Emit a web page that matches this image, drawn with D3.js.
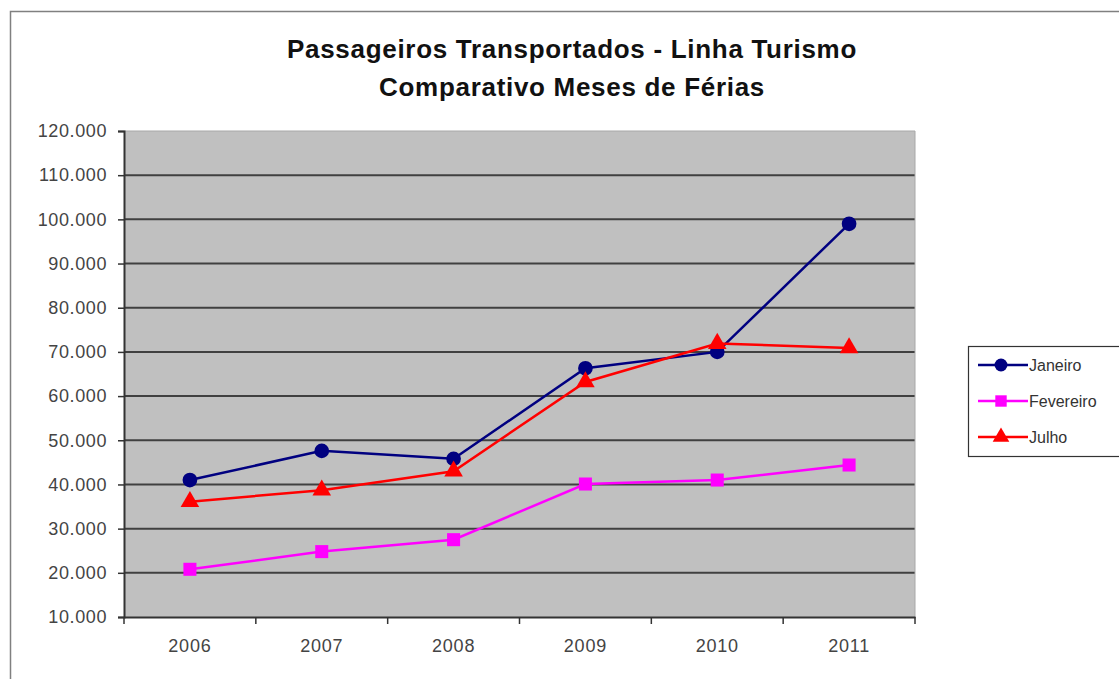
<!DOCTYPE html>
<html>
<head>
<meta charset="utf-8">
<script src="https://cdn.jsdelivr.net/npm/d3@7"></script>
<style>
  body { margin: 0; background: #fff; }
  text { font-family: "Liberation Sans", Arial, sans-serif; }
</style>
</head>
<body>
<div id="chart"></div>
<script>
var years = ["2006", "2007", "2008", "2009", "2010", "2011"]
var janeiro = [41000, 47600, 45800, 66300, 70000, 99000]
var fevereiro = [20800, 24800, 27500, 40100, 41000, 44400]
var julho = [36100, 38700, 43000, 63200, 71900, 70900]
var yTicks = [10000, 20000, 30000, 40000, 50000, 60000, 70000, 80000, 90000, 100000, 110000, 120000]
var titleLines = ["Passageiros Transportados - Linha Turismo", "Comparativo Meses de Férias"]

var series = [
  {name: "Janeiro", values: janeiro, color: "#000080", shape: d3.symbolCircle},
  {name: "Fevereiro", values: fevereiro, color: "#ff00ff", shape: d3.symbolSquare},
  {name: "Julho", values: julho, color: "#ff0000", shape: d3.symbolTriangle}
]

var width = 1119, height = 679
var plot = {left: 124, top: 131, right: 915, bottom: 617}

var svg = d3.select("#chart").append("svg")
  .attr("width", width).attr("height", height)

// outer chart frame
svg.append("rect")
  .attr("x", 10.5).attr("y", 11.5)
  .attr("width", 1130).attr("height", 700)
  .attr("fill", "#fff").attr("stroke", "#808080").attr("stroke-width", 1.5)

var x = d3.scaleBand().domain(years).range([plot.left, plot.right])
var y = d3.scaleLinear().domain([10000, 120000]).range([plot.bottom, plot.top])

svg.append("rect")
  .attr("x", plot.left).attr("y", plot.top)
  .attr("width", plot.right - plot.left).attr("height", plot.bottom - plot.top)
  .attr("fill", "#c0c0c0")

// gridlines
svg.append("g").selectAll("line")
  .data(yTicks.slice(1, -1))
  .join("line")
  .attr("x1", plot.left).attr("x2", plot.right)
  .attr("y1", d => y(d)).attr("y2", d => y(d))
  .attr("stroke", "#404040").attr("stroke-width", 2)

svg.append("line")
  .attr("x1", plot.left).attr("x2", plot.right)
  .attr("y1", plot.top).attr("y2", plot.top)
  .attr("stroke", "#a8a8a8").attr("stroke-width", 1)
svg.append("line")
  .attr("x1", plot.right).attr("x2", plot.right)
  .attr("y1", plot.top).attr("y2", plot.bottom)
  .attr("stroke", "#a8a8a8").attr("stroke-width", 1)

var fmt = d => d3.format(",")(d).replace(/,/g, ".")

var yAxis = svg.append("g")
  .attr("transform", "translate(" + plot.left + ",0)")
  .call(d3.axisLeft(y).tickValues(yTicks).tickFormat(fmt).tickSize(6).tickPadding(11))
yAxis.select(".domain").attr("stroke", "#333").attr("stroke-width", 2)
yAxis.selectAll(".tick line").attr("stroke", "#333").attr("stroke-width", 1.5)
yAxis.selectAll("text").attr("fill", "#444").style("font-size", "18px").style("letter-spacing", "0.6px")

var xAxis = svg.append("g")
  .attr("transform", "translate(0," + plot.bottom + ")")
  .call(d3.axisBottom(x).tickSize(0).tickPadding(22))
xAxis.select(".domain").attr("stroke", "#333").attr("stroke-width", 2)
xAxis.selectAll("text").attr("fill", "#444").style("font-size", "18px").style("letter-spacing", "0.8px")

// category boundary ticks
svg.append("g").selectAll("line")
  .data(years.concat(["end"]))
  .join("line")
  .attr("x1", (d, i) => plot.left + i * x.step())
  .attr("x2", (d, i) => plot.left + i * x.step())
  .attr("y1", plot.bottom).attr("y2", plot.bottom + 7)
  .attr("stroke", "#333").attr("stroke-width", 1.5)

var line = d3.line()
  .x((d, i) => x(years[i]) + x.bandwidth() / 2)
  .y(d => y(d))

series.forEach(function(s) {
  svg.append("path")
    .datum(s.values)
    .attr("d", line)
    .attr("fill", "none")
    .attr("stroke", s.color)
    .attr("stroke-width", 2.5)

  svg.append("g").selectAll("path")
    .data(s.values)
    .join("path")
    .attr("transform", (d, i) => "translate(" + (x(years[i]) + x.bandwidth() / 2) + "," + y(d) + ")")
    .attr("d", d3.symbol().type(s.shape).size(s.shape === d3.symbolTriangle ? 150 : 170))
    .attr("fill", s.color)
})

// title
svg.append("g").selectAll("text")
  .data(titleLines)
  .join("text")
  .attr("x", 572)
  .attr("y", (d, i) => 58 + i * 38)
  .attr("text-anchor", "middle")
  .style("font-size", "26px")
  .style("letter-spacing", "0.7px")
  .attr("font-weight", "bold")
  .attr("fill", "#111")
  .text(d => d)

// legend
var legend = svg.append("g").attr("transform", "translate(968,346)")
legend.append("rect")
  .attr("x", 0.5).attr("y", 0.5)
  .attr("width", 170).attr("height", 110)
  .attr("fill", "#fff").attr("stroke", "#333").attr("stroke-width", 1.2)

var items = legend.selectAll("g.item")
  .data(series)
  .join("g")
  .attr("class", "item")
  .attr("transform", (d, i) => "translate(0," + (19 + i * 36) + ")")

items.append("line")
  .attr("x1", 10).attr("x2", 60)
  .attr("stroke", d => d.color).attr("stroke-width", 2.5)
items.append("path")
  .attr("transform", "translate(33,0)")
  .attr("d", d => d3.symbol().type(d.shape).size(d.shape === d3.symbolTriangle ? 120 : 130)())
  .attr("fill", d => d.color)
items.append("text")
  .attr("x", 61).attr("y", 6)
  .style("font-size", "16px")
  .attr("fill", "#333")
  .text(d => d.name)
</script>
</body>
</html>
